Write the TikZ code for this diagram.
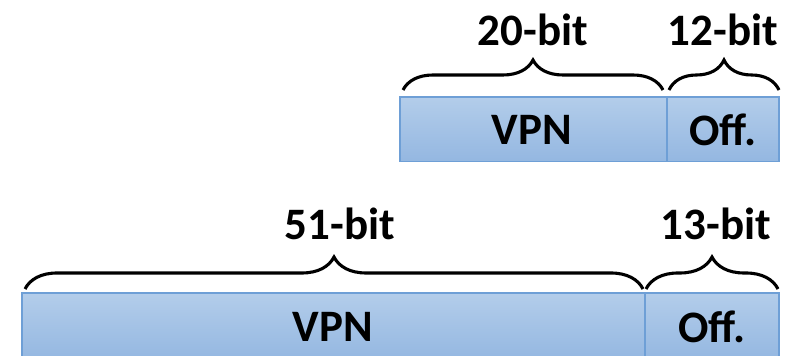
\documentclass[tikz,border=0pt]{standalone}
\usepackage{fontspec}
\setmainfont{Carlito}
\usepackage{tikz}
\usetikzlibrary{decorations.pathreplacing}
\definecolor{mtop}{HTML}{B3CDEA}
\definecolor{mbot}{HTML}{94B7E1}
\definecolor{medge}{HTML}{6E9FD6}

\begin{document}
\begin{tikzpicture}[
    field/.style={draw=medge, line width=1.2pt, top color=mtop, bottom color=mbot},
    bits/.style={decorate, decoration={brace, amplitude=#1}, line width=2.2pt},
    txt/.style={font=\fontsize{32}{38}\selectfont\bfseries}
  ]
      \useasboundingbox (0, 0) rectangle (20.3, 8.9);

      % 32-bit address
      \draw [field] (10, 4.86) rectangle (16.675, 6.475);
      \draw [field] (16.675, 4.86) rectangle (19.475, 6.475);

      \node (vpnA) [txt] at (13.3, 5.65) {VPN};
      \node (offA) [txt] at (18.075, 5.65) {Off.};

      \draw [bits=0.75cm] (10.075, 6.65) -- (16.575, 6.65);
      \draw [bits=0.75cm] (16.725, 6.65) -- (19.475, 6.65);
      \node (lenVpnA) [txt] at (13.325, 8.15) {20-bit};
      \node (lenOffA) [txt] at (18.075, 8.15) {12-bit};

      % 64-bit address
      \draw [field] (0.55, -0.1) rectangle (16.125, 1.575);
      \draw [field] (16.125, -0.1) rectangle (19.475, 1.575);

      \node (vpnB) [txt] at (8.325, 0.72) {VPN};
      \node (offB) [txt] at (17.8, 0.72) {Off.};

      \draw [bits=0.8cm] (0.625, 1.675) -- (16.075, 1.675);
      \draw [bits=0.8cm] (16.15, 1.675) -- (19.45, 1.675);
      \node (lenVpnB) [txt] at (8.5, 3.3) {51-bit};
      \node (lenOffB) [txt] at (17.9, 3.3) {13-bit};
    \end{tikzpicture}
\end{document}
